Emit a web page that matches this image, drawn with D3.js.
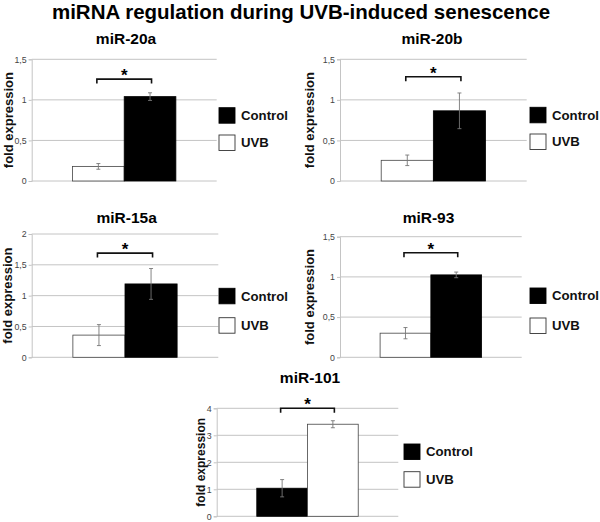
<!DOCTYPE html>
<html><head><meta charset="utf-8">
<script src="https://cdn.jsdelivr.net/npm/d3@7"></script>
<style>body{margin:0;background:#fff}svg{display:block}text{font-family:"Liberation Sans",Arial,sans-serif}</style>
</head><body>
<svg id="c" width="600" height="522"></svg>
<script>
// ---- data ----
const mainTitle = "miRNA regulation during UVB-induced senescence";
const panelTitles = ["miR-20a", "miR-20b", "miR-15a", "miR-93", "miR-101"];
const seriesNames = ["Control", "UVB"];
const uvbValues = [0.18, 0.255, 0.36, 0.30, 3.41];
const uvbErrors = [0.035, 0.065, 0.17, 0.07, 0.13];
const controlValues = [1.04, 0.865, 1.19, 1.025, 1.04];
const controlErrors = [0.047, 0.22, 0.25, 0.035, 0.32];
const barOrder = [["UVB","Control"],["UVB","Control"],["UVB","Control"],["UVB","Control"],["Control","UVB"]];
const yMaxes = [1.5, 1.5, 2, 1.5, 4];
const tickValues = [[0,0.5,1,1.5],[0,0.5,1,1.5],[0,0.5,1,1.5,2],[0,0.5,1,1.5],[0,1,2,3,4]];
const bracketLevels = [1.256, 1.284, 1.69, 1.30, 4.0];
const yAxisLabel = "fold expression";
const sigMark = "*";

// ---- layout ----
const layout = [
  {x0:31.7, x1:216.7, yB:181, yT:59.3, tx:126, ty:44, lx:219, ly:107.7, lg:27.3, ylx:8.5, yls:13},
  {x0:340, x1:526.7, yB:181, yT:59.3, tx:432, ty:44, lx:530, ly:107.3, lg:26.7, ylx:309.5, yls:13},
  {x0:31.7, x1:218.3, yB:357.3, yT:234, tx:126.7, ty:223.3, lx:219, ly:288.3, lg:29.4, ylx:7, yls:13},
  {x0:340, x1:521.7, yB:357.3, yT:236.7, tx:428.5, ty:223.3, lx:530, ly:288, lg:30, ylx:309.5, yls:13},
  {x0:216.7, x1:398.3, yB:516.3, yT:408.3, tx:310, ty:382.7, lx:404, ly:444, lg:27.7, ylx:200.5, yls:12}
];
const fill = {Control:"#000", UVB:"#fff"};
const fmt = v => String(v).replace(".", ",");

const svg = d3.select("#c");
svg.append("text").attr("x", 301).attr("y", 19).attr("text-anchor","middle")
  .attr("font-size", 20.5).attr("font-weight","bold").attr("fill","#000").text(mainTitle);

panelTitles.forEach((title, i) => {
  const L = layout[i];
  const g = svg.append("g");
  const y = d3.scaleLinear().domain([0, yMaxes[i]]).range([L.yB, L.yT]);
  const x = d3.scaleBand().domain(barOrder[i]).range([L.x0, L.x1]).paddingInner(0).paddingOuter(0.79);
  const vals = {UVB: uvbValues[i], Control: controlValues[i]};
  const errs = {UVB: uvbErrors[i], Control: controlErrors[i]};

  // gridlines
  g.append("g").selectAll("line").data(tickValues[i]).join("line")
    .attr("x1", L.x0).attr("x2", L.x1).attr("y1", d => y(d)).attr("y2", d => y(d))
    .attr("stroke", "#c4c4c4").attr("stroke-width", 1);

  // axis
  const ax = g.append("g").attr("transform", `translate(${L.x0},0)`)
    .call(d3.axisLeft(y).tickValues(tickValues[i]).tickFormat(fmt).tickSize(3).tickPadding(2));
  ax.select(".domain").attr("stroke", "#c4c4c4");
  ax.selectAll(".tick line").attr("stroke", "#c4c4c4");
  ax.selectAll(".tick text").attr("fill", "#444").attr("font-size", 8.8)
    .attr("font-family", '"Liberation Sans",Arial,sans-serif');

  // bars
  g.append("g").selectAll("rect").data(barOrder[i]).join("rect")
    .attr("x", d => x(d)).attr("width", x.bandwidth())
    .attr("y", d => y(vals[d])).attr("height", d => y(0) - y(vals[d]))
    .attr("fill", d => fill[d]).attr("stroke", d => d === "UVB" ? "#444" : "#000").attr("stroke-width", 0.8);

  // error bars
  const eb = g.append("g").attr("stroke", "#777").attr("stroke-width", 0.9);
  barOrder[i].forEach(s => {
    const cx = x(s) + x.bandwidth() / 2;
    const hi = y(vals[s] + errs[s]), lo = y(vals[s] - errs[s]);
    eb.append("line").attr("x1", cx).attr("x2", cx).attr("y1", hi).attr("y2", lo);
    eb.append("line").attr("x1", cx - 2).attr("x2", cx + 2).attr("y1", hi).attr("y2", hi);
    eb.append("line").attr("x1", cx - 2).attr("x2", cx + 2).attr("y1", lo).attr("y2", lo);
  });

  // significance bracket
  const bx1 = x(barOrder[i][0]) + x.bandwidth() / 2 - 1.5;
  const bx2 = x(barOrder[i][1]) + x.bandwidth() / 2 + 1.5;
  const by = y(bracketLevels[i]);
  g.append("path").attr("d", `M${bx1},${by + 4.5}V${by}H${bx2}V${by + 4.5}`)
    .attr("fill", "none").attr("stroke", "#111").attr("stroke-width", 1.6);
  g.append("text").attr("x", (bx1 + bx2) / 2).attr("y", by + 2).attr("text-anchor", "middle")
    .attr("font-size", 17).attr("font-weight", "bold").text(sigMark);

  // title
  g.append("text").attr("x", L.tx).attr("y", L.ty).attr("text-anchor", "middle")
    .attr("font-size", 15.5).attr("font-weight", "bold").text(title);

  // y label
  g.append("text").attr("transform", `translate(${L.ylx},${(L.yB + L.yT) / 2}) rotate(-90)`)
    .attr("text-anchor", "middle").attr("dy", "0.35em")
    .attr("font-size", L.yls).attr("font-weight", "bold").attr("fill", "#111").text(yAxisLabel);

  // legend
  const lg = g.append("g");
  seriesNames.forEach((s, k) => {
    const yy = L.ly + k * L.lg;
    lg.append("rect").attr("x", L.lx).attr("y", yy).attr("width", 16).attr("height", 15.5)
      .attr("fill", fill[s]).attr("stroke", s === "UVB" ? "#333" : "#000").attr("stroke-width", 0.9);
    lg.append("text").attr("x", L.lx + 22).attr("y", yy + 7.8).attr("dy", "0.35em")
      .attr("font-size", 13.2).attr("font-weight", "bold").attr("fill", "#111").text(s);
  });
});
</script>
</body></html>
